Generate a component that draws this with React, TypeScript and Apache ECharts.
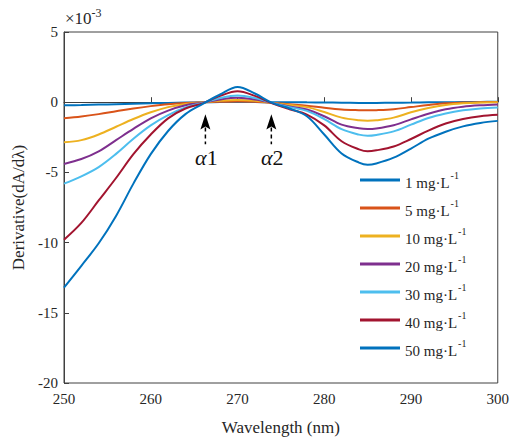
import React, { useEffect, useRef } from 'react';
import * as echarts from 'echarts';

const wavelengths = [250, 252, 254, 256, 258, 260, 262, 264, 266, 268, 270, 272, 274, 276, 278, 280, 282, 284, 285, 286, 288, 290, 292, 294, 296, 298, 300];

const c1 = [-0.22, -0.2, -0.17, -0.14, -0.11, -0.08, -0.05, -0.03, -0.01, 0.01, 0.02, 0.01, 0, 0, -0.01, -0.02, -0.04, -0.05, -0.05, -0.05, -0.04, -0.03, -0.01, 0, 0.01, 0.02, 0.03];
const c5 = [-1.15, -1.02, -0.85, -0.65, -0.45, -0.28, -0.14, -0.05, -0.01, 0.03, 0.05, 0.03, -0.05, -0.15, -0.25, -0.4, -0.52, -0.57, -0.58, -0.57, -0.5, -0.35, -0.2, -0.08, -0.03, 0.0, 0.02];
const c10 = [-2.86, -2.7, -2.3, -1.75, -1.2, -0.72, -0.35, -0.12, -0.02, 0.1, 0.15, 0.1, -0.05, -0.2, -0.35, -0.7, -1.1, -1.29, -1.32, -1.29, -1.1, -0.72, -0.42, -0.2, -0.08, -0.02, 0.0];
const c20 = [-4.4, -4.05, -3.5, -2.7, -1.9, -1.15, -0.6, -0.22, -0.03, 0.2, 0.32, 0.2, -0.05, -0.3, -0.52, -1.0, -1.6, -1.86, -1.91, -1.87, -1.64, -1.22, -0.82, -0.5, -0.32, -0.22, -0.16];
const c30 = [-5.8, -5.28, -4.62, -3.68, -2.6, -1.65, -0.92, -0.37, -0.05, 0.3, 0.48, 0.3, -0.05, -0.35, -0.62, -1.2, -1.92, -2.31, -2.39, -2.33, -2.08, -1.6, -1.12, -0.8, -0.58, -0.45, -0.38];
const c40 = [-9.8, -8.6, -7.0, -5.4, -3.7, -2.3, -1.15, -0.45, -0.08, 0.45, 0.78, 0.45, -0.08, -0.5, -0.88, -1.65, -2.78, -3.36, -3.5, -3.43, -3.15, -2.62, -2.02, -1.52, -1.2, -1.0, -0.9];
const c50 = [-13.2, -11.65, -10.05, -8.1, -5.8, -3.7, -2.05, -0.85, -0.12, 0.55, 1.08, 0.62, -0.05, -0.45, -1.0, -2.3, -3.65, -4.3, -4.45, -4.36, -3.95, -3.3, -2.6, -2.1, -1.72, -1.48, -1.33];

const seriesNames = ['1 mg·L-1', '5 mg·L-1', '10 mg·L-1', '20 mg·L-1', '30 mg·L-1', '40 mg·L-1', '50 mg·L-1'];
const seriesValues = [c1, c5, c10, c20, c30, c40, c50];
const seriesColors = ['#0072BD', '#D95319', '#EDB120', '#7E2F8E', '#4DBEEE', '#A2142F', '#0072BD'];

// annotation anchors (data coords)
const isoPoints = [
  { label: 'α', sub: '1', x: 266.3 },
  { label: 'α', sub: '2', x: 273.9 },
];

const FONT = "'Liberation Serif', 'Times New Roman', serif";
const TXT = '#262626';

export default function App() {
  const ref = useRef<HTMLDivElement>(null);

  useEffect(() => {
    if (!ref.current) return;
    document.body.style.margin = '0';
    const chart = echarts.init(ref.current, undefined, { renderer: 'svg' });
    const option: any = {
      animation: false,
      backgroundColor: '#ffffff',
      grid: { left: 64, right: 14, top: 32, bottom: 55, show: true, borderColor: '#404040', borderWidth: 1, backgroundColor: 'transparent' },
      xAxis: {
        type: 'value',
        min: 250,
        max: 300,
        interval: 10,
        name: 'Wavelength (nm)',
        nameLocation: 'middle',
        nameGap: 36,
        nameTextStyle: { fontFamily: FONT, fontSize: 17, color: TXT },
        axisLine: { show: true, lineStyle: { color: '#404040', width: 1 } },
        axisTick: { show: true, inside: true, length: 5, lineStyle: { color: '#404040' } },
        axisLabel: { fontFamily: FONT, fontSize: 15, color: TXT, margin: 8 },
        splitLine: { show: false },
      },
      yAxis: {
        type: 'value',
        min: -20,
        max: 5,
        interval: 5,
        name: 'Derivative(dA/dλ)',
        nameLocation: 'middle',
        nameGap: 36,
        nameTextStyle: { fontFamily: FONT, fontSize: 17, color: TXT },
        axisLine: { show: true, lineStyle: { color: '#404040', width: 1 } },
        axisTick: { show: true, inside: true, length: 5, lineStyle: { color: '#404040' } },
        axisLabel: { fontFamily: FONT, fontSize: 15, color: TXT, margin: 6 },
        splitLine: { show: false },
      },
      legend: {
        orient: 'vertical',
        left: 355,
        top: 165,
        icon: 'rect',
        itemWidth: 40,
        itemHeight: 3,
        itemGap: 8,
        data: seriesNames,
        formatter: (name: string) => {
          const m = name.match(/^(.*)-1$/);
          return m ? `{a|${m[1]}}{s|-1}` : name;
        },
        textStyle: {
          fontFamily: FONT,
          color: TXT,
          rich: {
            a: { fontFamily: FONT, fontSize: 15, color: TXT, lineHeight: 20, verticalAlign: 'bottom' },
            s: { fontFamily: FONT, fontSize: 10, color: TXT, lineHeight: 20, verticalAlign: 'top', padding: [0, 0, 0, 1] },
          },
        },
      },
      series: seriesNames.map((name, i) => ({
        name,
        type: 'line',
        smooth: 0.35,
        showSymbol: false,
        symbol: 'none',
        color: seriesColors[i],
        lineStyle: { color: seriesColors[i], width: 2 },
        data: wavelengths.map((w, j) => [w, seriesValues[i][j]]),
        z: 2 + i,
      })),
    };
    chart.setOption(option);

    const graphics: any[] = [];
    isoPoints.forEach((p) => {
      const tip = chart.convertToPixel({ gridIndex: 0 }, [p.x, -0.86]) as number[];
      const base = chart.convertToPixel({ gridIndex: 0 }, [p.x, -1.95]) as number[];
      const tail = chart.convertToPixel({ gridIndex: 0 }, [p.x, -3.0]) as number[];
      const lab = chart.convertToPixel({ gridIndex: 0 }, [p.x, -3.95]) as number[];
      const x = tip[0];
      graphics.push({
        type: 'polygon',
        shape: { points: [[x, tip[1]], [x + 5, base[1]], [x, base[1] - 3], [x - 5, base[1]]] },
        style: { fill: '#000' },
        z: 100,
      });
      graphics.push({
        type: 'line',
        shape: { x1: x, y1: base[1] - 2, x2: x, y2: tail[1] },
        style: { stroke: '#000', lineWidth: 1.5, lineDash: [4, 3] },
        z: 100,
      });
      graphics.push({
        type: 'text',
        x: x + 1,
        y: lab[1],
        style: {
          text: `{a|${p.label}}{b|${p.sub}}`,
          align: 'center',
          verticalAlign: 'middle',
          rich: {
            a: { fontFamily: FONT, fontSize: 22, fontStyle: 'italic', fill: '#111' },
            b: { fontFamily: FONT, fontSize: 22, fill: '#111' },
          },
        },
        z: 100,
      });
    });
    graphics.push({
      type: 'text',
      left: 65,
      top: 7,
      style: {
        text: '{a|×10}{s|-3}',
        rich: {
          a: { fontFamily: FONT, fontSize: 17, fill: TXT, lineHeight: 20, verticalAlign: 'bottom' },
          s: { fontFamily: FONT, fontSize: 12, fill: TXT, lineHeight: 20, verticalAlign: 'top' },
        },
      },
    });
    chart.setOption({ graphic: graphics });

    return () => chart.dispose();
  }, []);

  return <div ref={ref} style={{ width: 512, height: 441 }} />;
}
